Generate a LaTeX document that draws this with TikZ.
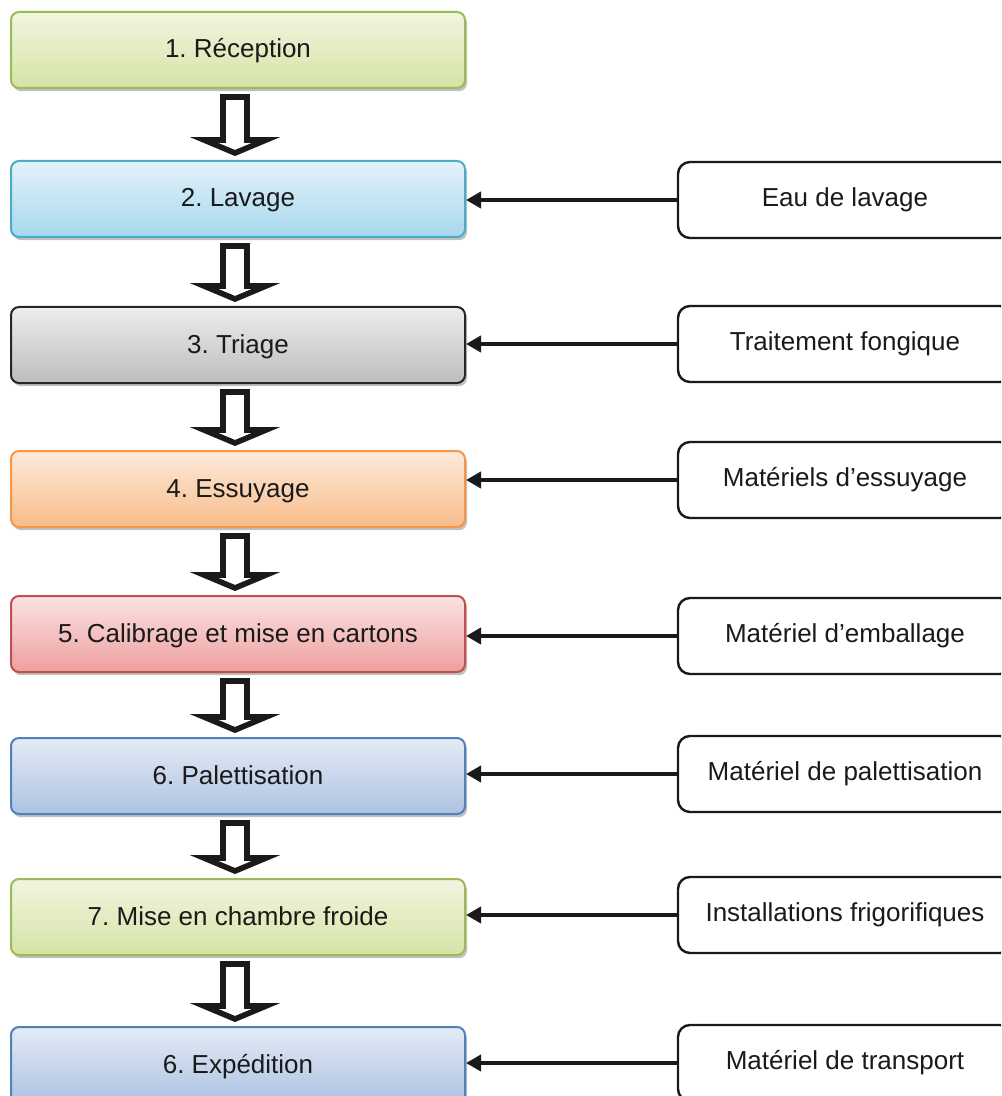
\documentclass[tikz,border=0pt]{standalone}
\usepackage{fontspec}
\setmainfont{Liberation Sans}
\usetikzlibrary{shadows,calc,arrows.meta}

% step colours: light top, darker bottom, outline
\definecolor{grnTop}{HTML}{F1F5E0}\definecolor{grnBot}{HTML}{D6E3A5}\definecolor{grnLine}{HTML}{9BBB59}
\definecolor{cyaTop}{HTML}{E3F3FA}\definecolor{cyaBot}{HTML}{A7D7ED}\definecolor{cyaLine}{HTML}{4BACC6}
\definecolor{gryTop}{HTML}{EDEDED}\definecolor{gryBot}{HTML}{BDBDBD}\definecolor{gryLine}{HTML}{262626}
\definecolor{orgTop}{HTML}{FDE9D9}\definecolor{orgBot}{HTML}{F8BD8B}\definecolor{orgLine}{HTML}{F79646}
\definecolor{redTop}{HTML}{FAE3E3}\definecolor{redBot}{HTML}{EE9F9F}\definecolor{redLine}{HTML}{C0504D}
\definecolor{bluTop}{HTML}{E4EBF5}\definecolor{bluBot}{HTML}{ADC2E2}\definecolor{bluLine}{HTML}{4F81BD}
\definecolor{ink}{HTML}{1A1A1A}

% hollow block arrow between two stacked steps
\newcommand\flowarrow[2]{%
  \draw[hollowarrow]
    ($(#1.south)+(-15,8)$) -- ($(#1.south)+(9,8)$) --
    ($(#2.north)+(9,-20)$) -- ($(#2.north)+(28,-20)$) --
    ($(#2.north)+(-3,-7)$) -- ($(#2.north)+(-34,-20)$) --
    ($(#2.north)+(-15,-20)$) -- cycle;}

\begin{document}
\frenchspacing
\begin{tikzpicture}[x=0.5pt,y=-0.5pt,
  txt/.style={font=\fontsize{13}{15}\selectfont, text=ink},
  stagebox/.style={txt, rectangle, rounded corners=4pt, inner sep=0pt,
    text height=10pt, text depth=2pt,
    minimum width=227pt, minimum height=38pt, line width=1pt,
    drop shadow={shadow xshift=1pt, shadow yshift=-1.6pt, fill=black!55, opacity=0.45}},
  fillgrn/.style={draw=grnLine, top color=grnTop, bottom color=grnBot},
  fillcya/.style={draw=cyaLine, top color=cyaTop, bottom color=cyaBot},
  fillgry/.style={draw=gryLine, top color=gryTop, bottom color=gryBot},
  fillorg/.style={draw=orgLine, top color=orgTop, bottom color=orgBot},
  fillred/.style={draw=redLine, top color=redTop, bottom color=redBot},
  fillblu/.style={draw=bluLine, top color=bluTop, bottom color=bluBot},
  inputbox/.style={txt, rectangle, draw=ink, fill=white, line width=1.2pt,
    rounded corners=6pt, inner sep=0pt, minimum width=167pt, minimum height=38pt},
  hollowarrow/.style={draw=ink, fill=white, line width=2.8pt},
  feed/.style={draw=ink, line width=2pt, -{Triangle[length=7.5pt,width=8pt]}}]

\clip (0,0) rectangle (1001,1096);

% process steps
\node[stagebox, fillgrn] (l1) at (238,50)   {1. Réception};
\node[stagebox, fillcya] (l2) at (238,199)  {2. Lavage};
\node[stagebox, fillgry] (l3) at (238,345)  {3. Triage};
\node[stagebox, fillorg] (l4) at (238,489)  {4. Essuyage};
\node[stagebox, fillred] (l5) at (238,634)  {5. Calibrage et mise en cartons};
\node[stagebox, fillblu] (l6) at (238,776)  {6. Palettisation};
\node[stagebox, fillgrn] (l7) at (238,917)  {7. Mise en chambre froide};
\node[stagebox, fillblu] (l8) at (238,1065) {6. Expédition};

% inputs
\node[inputbox] (r2) at (845,200)  {Eau de lavage};
\node[inputbox] (r3) at (845,344)  {Traitement fongique};
\node[inputbox] (r4) at (845,480)  {Matériels d’essuyage};
\node[inputbox] (r5) at (845,636)  {Matériel d’emballage};
\node[inputbox] (r6) at (845,774)  {Matériel de palettisation};
\node[inputbox] (r7) at (845,915)  {Installations frigorifiques};
\node[inputbox] (r8) at (845,1063) {Matériel de transport};

% flow between steps
\flowarrow{l1}{l2}
\flowarrow{l2}{l3}
\flowarrow{l3}{l4}
\flowarrow{l4}{l5}
\flowarrow{l5}{l6}
\flowarrow{l6}{l7}
\flowarrow{l7}{l8}

% inputs feeding the steps
\foreach \i in {2,...,8}
  \draw[feed] (r\i.west) -- (r\i.west -| l\i.east);

\end{tikzpicture}
\end{document}
